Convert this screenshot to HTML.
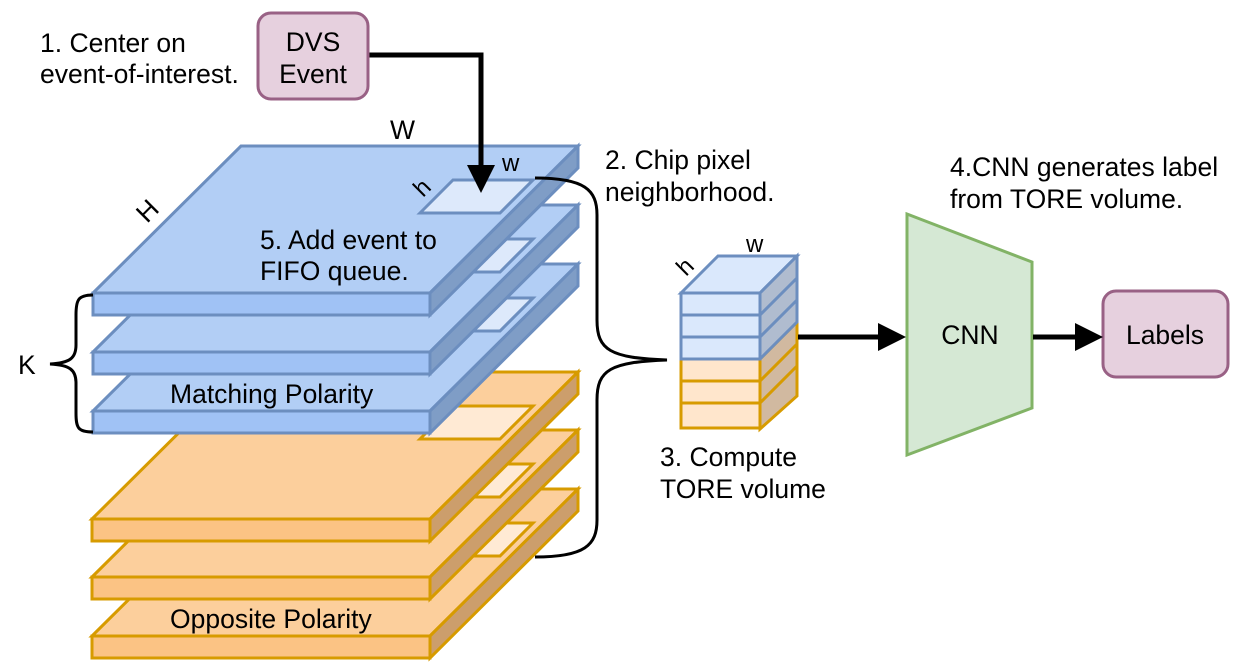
<!DOCTYPE html><html><head><style>body{margin:0;background:#fff}svg{display:block}text{font-family:"Liberation Sans",Arial,sans-serif;fill:#000}</style></head><body>
<svg width="1248" height="672" viewBox="0 0 1248 672">
<g stroke-width="3" stroke-linejoin="miter">
<g stroke="#d79b00">
<g><polygon points="92,636 240,489 578,489 430,636" fill="#fccf9c"/><polygon points="420,556 453,523 533,523 500,556" fill="#ffead4"/><rect x="92" y="636" width="338" height="22" fill="#fbc384"/><polygon points="430,636 578,489 578,511 430,658" fill="#cc9e6c"/></g>
<g><polygon points="92,577 240,430 578,430 430,577" fill="#fccf9c"/><polygon points="420,497 453,464 533,464 500,497" fill="#ffead4"/><rect x="92" y="577" width="338" height="22" fill="#fbc384"/><polygon points="430,577 578,430 578,452 430,599" fill="#cc9e6c"/></g>
<g><polygon points="92,519 240,372 578,372 430,519" fill="#fccf9c"/><polygon points="420,439 453,406 533,406 500,439" fill="#ffead4"/><rect x="92" y="519" width="338" height="22" fill="#fbc384"/><polygon points="430,519 578,372 578,394 430,541" fill="#cc9e6c"/></g>
</g>
<g stroke="#6c8ebf">
<g><polygon points="93,411 241,264 578,264 430,411" fill="#b2cef5"/><polygon points="420,331 453,298 533,298 500,331" fill="#dde9fb"/><rect x="93" y="411" width="337" height="22" fill="#a0c2f5"/><polygon points="430,411 578,264 578,286 430,433" fill="#7f9dc6"/></g>
<g><polygon points="93,352 241,205 578,205 430,352" fill="#b2cef5"/><polygon points="420,272 453,239 533,239 500,272" fill="#dde9fb"/><rect x="93" y="352" width="337" height="22" fill="#a0c2f5"/><polygon points="430,352 578,205 578,227 430,374" fill="#7f9dc6"/></g>
<g><polygon points="93,293 241,146 578,146 430,293" fill="#b2cef5"/><polygon points="420,213 453,180 533,180 500,213" fill="#dde9fb"/><rect x="93" y="293" width="337" height="22" fill="#a0c2f5"/><polygon points="430,293 578,146 578,168 430,315" fill="#7f9dc6"/></g>
</g>
</g>
<path d="M93,295 C78,295 76,300 76,315 L76,345 C76,358 70,363 50,364 C70,365 76,370 76,383 L76,413 C76,428 78,432 93,432" fill="none" stroke="#000" stroke-width="3"/>
<path d="M535,178 C585,178 597,190 597,215 L597,320 C597,350 610,358 667,360 C610,362 597,370 597,400 L597,520 C597,545 585,557 535,557" fill="none" stroke="#000" stroke-width="3"/>
<path d="M368,55 L481,55 L481,170" fill="none" stroke="#000" stroke-width="5"/>
<polygon points="467,165 495,165 481,193" fill="#000"/>
<rect x="258" y="13" width="110" height="86" rx="13" fill="#e6d0de" stroke="#996185" stroke-width="3"/>
<rect x="1103" y="291" width="125" height="86" rx="13" fill="#e6d0de" stroke="#996185" stroke-width="3"/>
<polygon points="907,214 1032,262 1032,408 907,455" fill="#d5e8d4" stroke="#82b366" stroke-width="3"/>
<g stroke-width="3">
<polygon points="681,293 718,256 797,256 760,293" fill="#dae8fc" stroke="#6c8ebf"/>
<polygon points="760,359 797,322 797,396 760,429" fill="#d1b9a0" stroke="#d79b00"/>
<polygon points="760,293 797,256 797,322 760,359" fill="#b0bccf" stroke="#6c8ebf"/>
<path d="M760,381 L797,344 M760,403 L797,366" stroke="#d79b00"/>
<path d="M760,315 L797,278 M760,337 L797,300" stroke="#6c8ebf"/>
<rect x="681" y="359" width="79" height="22" fill="#ffe6cc" stroke="#d79b00"/>
<rect x="681" y="381" width="79" height="22" fill="#ffe6cc" stroke="#d79b00"/>
<rect x="681" y="403" width="79" height="25" fill="#ffe6cc" stroke="#d79b00"/>
<rect x="681" y="293" width="79" height="22" fill="#dae8fc" stroke="#6c8ebf"/>
<rect x="681" y="315" width="79" height="22" fill="#dae8fc" stroke="#6c8ebf"/>
<rect x="681" y="337" width="79" height="22" fill="#dae8fc" stroke="#6c8ebf"/>
</g>
<line x1="798" y1="337" x2="882" y2="337" stroke="#000" stroke-width="5"/><polygon points="878,323 906,337 878,351" fill="#000"/>
<line x1="1033" y1="337" x2="1080" y2="337" stroke="#000" stroke-width="5"/><polygon points="1075,323 1103,337 1075,351" fill="#000"/>
<g font-size="26.5">
<text x="40" y="52">1. Center on</text><text x="40" y="83">event-of-interest.</text>
<text x="313" y="51" text-anchor="middle">DVS</text><text x="313" y="83" text-anchor="middle">Event</text>
<text x="390" y="139">W</text>
<text x="502" y="171" font-size="24">w</text>
<text x="0" y="0" transform="translate(147,224) rotate(-45)">H</text>
<text x="0" y="0" font-size="24" transform="translate(423,198) rotate(-45)">h</text>
<text x="605" y="169">2. Chip pixel</text><text x="605" y="201">neighborhood.</text>
<text x="950" y="176">4.CNN generates label</text><text x="950" y="208">from TORE volume.</text>
<text x="260" y="249">5. Add event to</text><text x="260" y="280">FIFO queue.</text>
<text x="18" y="374">K</text>
<text x="170" y="403">Matching Polarity</text>
<text x="170" y="628">Opposite Polarity</text>
<text x="660" y="466">3. Compute</text><text x="660" y="498">TORE volume</text>
<text x="970" y="344" text-anchor="middle">CNN</text>
<text x="1165" y="344" text-anchor="middle">Labels</text>
<text x="746" y="252" font-size="24">w</text>
<text x="0" y="0" font-size="24" transform="translate(686,277) rotate(-45)">h</text>
</g>
</svg></body></html>
